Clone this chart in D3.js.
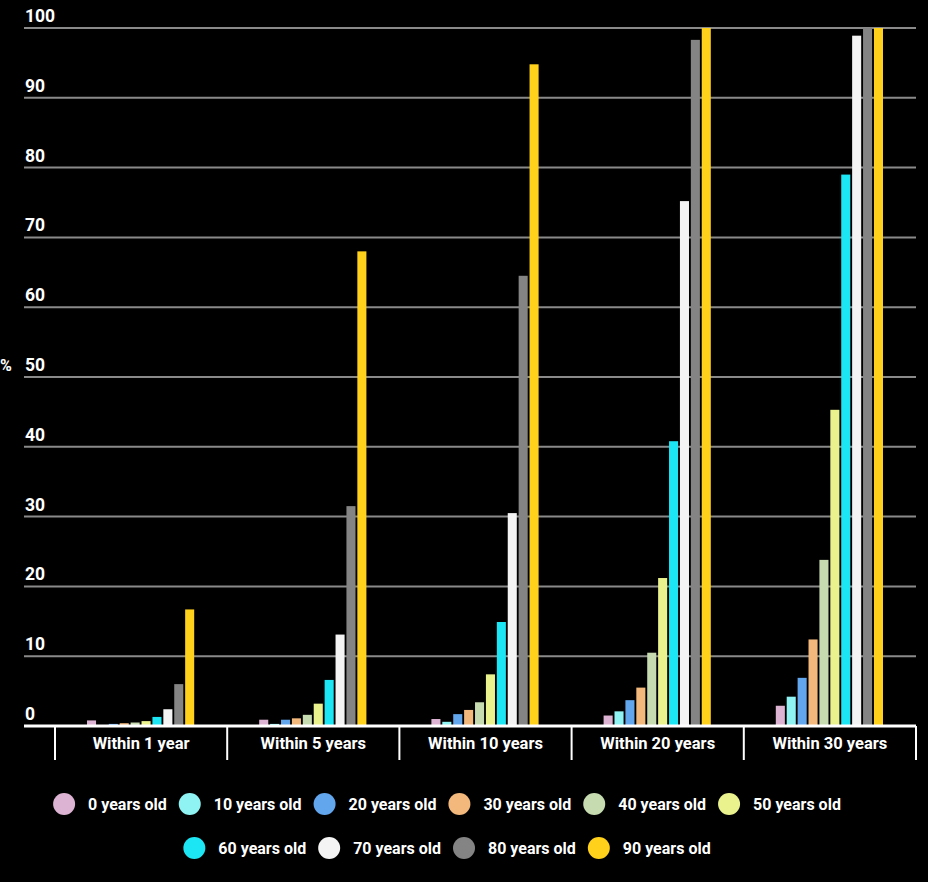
<!DOCTYPE html>
<meta charset="utf-8">
<style>
body {
  margin: 0;
  background-color: #000;
}
text {
  font-family: Roboto, "Noto Sans", sans-serif;
  font-weight: 700;
  fill: #fff;
}
</style>
<body>
<script src="https://d3js.org/d3.v7.min.js"></script>
<script>
  // data
  var periods = ["Within 1 year", "Within 5 years", "Within 10 years", "Within 20 years", "Within 30 years"];
  var ages = ["0 years old", "10 years old", "20 years old", "30 years old", "40 years old",
              "50 years old", "60 years old", "70 years old", "80 years old", "90 years old"];
  var colors = ["#ddb3d3", "#8ff3f3", "#62a6ee", "#f2b87c", "#c6dbb0",
                "#eaf28e", "#1de6f4", "#f4f4f4", "#848484", "#ffd11a"];
  // one array per age, values per period (%)
  var age0  = [0.8, 0.9, 1.0, 1.5, 2.9];
  var age10 = [0.1, 0.3, 0.6, 2.1, 4.2];
  var age20 = [0.3, 0.9, 1.7, 3.7, 6.9];
  var age30 = [0.4, 1.1, 2.3, 5.5, 12.4];
  var age40 = [0.5, 1.6, 3.4, 10.5, 23.8];
  var age50 = [0.7, 3.2, 7.4, 21.2, 45.3];
  var age60 = [1.3, 6.6, 14.9, 40.8, 79.0];
  var age70 = [2.4, 13.1, 30.5, 75.2, 98.9];
  var age80 = [6.0, 31.5, 64.5, 98.3, 100];
  var age90 = [16.7, 68.0, 94.8, 100, 100];
  var series = [age0, age10, age20, age30, age40, age50, age60, age70, age80, age90];
  var yTicks = [0, 10, 20, 30, 40, 50, 60, 70, 80, 90, 100];

  var width = 928, height = 882;
  var gridLeft = 24, plotRight = 916, plotTop = 28, plotBottom = 726;

  var svg = d3.select("body").append("svg")
      .attr("width", width)
      .attr("height", height);

  var x = d3.scaleBand()
      .domain(periods)
      .range([55, plotRight]);

  var inner = d3.scaleBand()
      .domain(d3.range(ages.length))
      .range([32, x.bandwidth() - 33])
      .paddingInner(0.17);

  var y = d3.scaleLinear()
      .domain([0, 100])
      .range([plotBottom, plotTop]);

  // gridlines and y labels
  svg.append("g").selectAll("line")
      .data(yTicks.filter(function(d) { return d > 0; }))
    .enter().append("line")
      .attr("x1", gridLeft)
      .attr("x2", plotRight)
      .attr("y1", function(d) { return y(d); })
      .attr("y2", function(d) { return y(d); })
      .attr("stroke", "#8a8a8a")
      .attr("stroke-width", 2);

  svg.append("g").selectAll("text")
      .data(yTicks)
    .enter().append("text")
      .attr("x", gridLeft + 1)
      .attr("y", function(d) { return y(d) - 6; })
      .attr("font-size", 17.5)
      .text(function(d) { return d; });

  svg.append("text")
      .attr("x", 0)
      .attr("y", 371)
      .attr("font-size", 16)
      .text("%");

  // bars
  var groups = svg.append("g").selectAll("g")
      .data(periods)
    .enter().append("g")
      .attr("transform", function(d) { return "translate(" + x(d) + ",0)"; });

  groups.selectAll("rect")
      .data(function(d, i) {
        return series.map(function(s, j) { return {k: j, v: s[i]}; });
      })
    .enter().append("rect")
      .attr("x", function(d) { return inner(d.k); })
      .attr("width", inner.bandwidth())
      .attr("y", function(d) { return y(d.v); })
      .attr("height", function(d) { return plotBottom - y(d.v); })
      .attr("fill", function(d) { return colors[d.k]; });

  // x axis
  var xAxis = svg.append("g");
  xAxis.append("line")
      .attr("x1", gridLeft)
      .attr("x2", plotRight)
      .attr("y1", plotBottom)
      .attr("y2", plotBottom)
      .attr("stroke", "#fff")
      .attr("stroke-width", 3);

  var edges = periods.map(function(d) { return x(d); }).concat([plotRight]);
  xAxis.selectAll(".tick")
      .data(edges)
    .enter().append("line")
      .attr("x1", function(d) { return d; })
      .attr("x2", function(d) { return d; })
      .attr("y1", plotBottom)
      .attr("y2", 760)
      .attr("stroke", "#fff")
      .attr("stroke-width", 2);

  xAxis.selectAll(".lab")
      .data(periods)
    .enter().append("text")
      .attr("x", function(d) { return x(d) + x.bandwidth() / 2; })
      .attr("y", 749)
      .attr("text-anchor", "middle")
      .attr("font-size", 16.5)
      .text(function(d) { return d; });

  // legend, two centered rows
  var rows = [d3.range(0, 6), d3.range(6, 10)];
  var rowY = [804, 848];
  var legendCenter = 447;
  var gap = 12;
  rows.forEach(function(idx, r) {
    var g = svg.append("g");
    var cx = 0;
    idx.forEach(function(k) {
      var item = g.append("g").attr("transform", "translate(" + cx + ",0)");
      item.append("circle")
          .attr("cx", 11)
          .attr("cy", 0)
          .attr("r", 11)
          .attr("fill", colors[k]);
      var t = item.append("text")
          .attr("x", 35)
          .attr("y", 6)
          .attr("font-size", 16)
          .text(ages[k]);
      cx += 35 + t.node().getComputedTextLength() + gap;
    });
    var total = cx - gap;
    g.attr("transform", "translate(" + (legendCenter - total / 2) + "," + rowY[r] + ")");
  });
</script>
</body>
